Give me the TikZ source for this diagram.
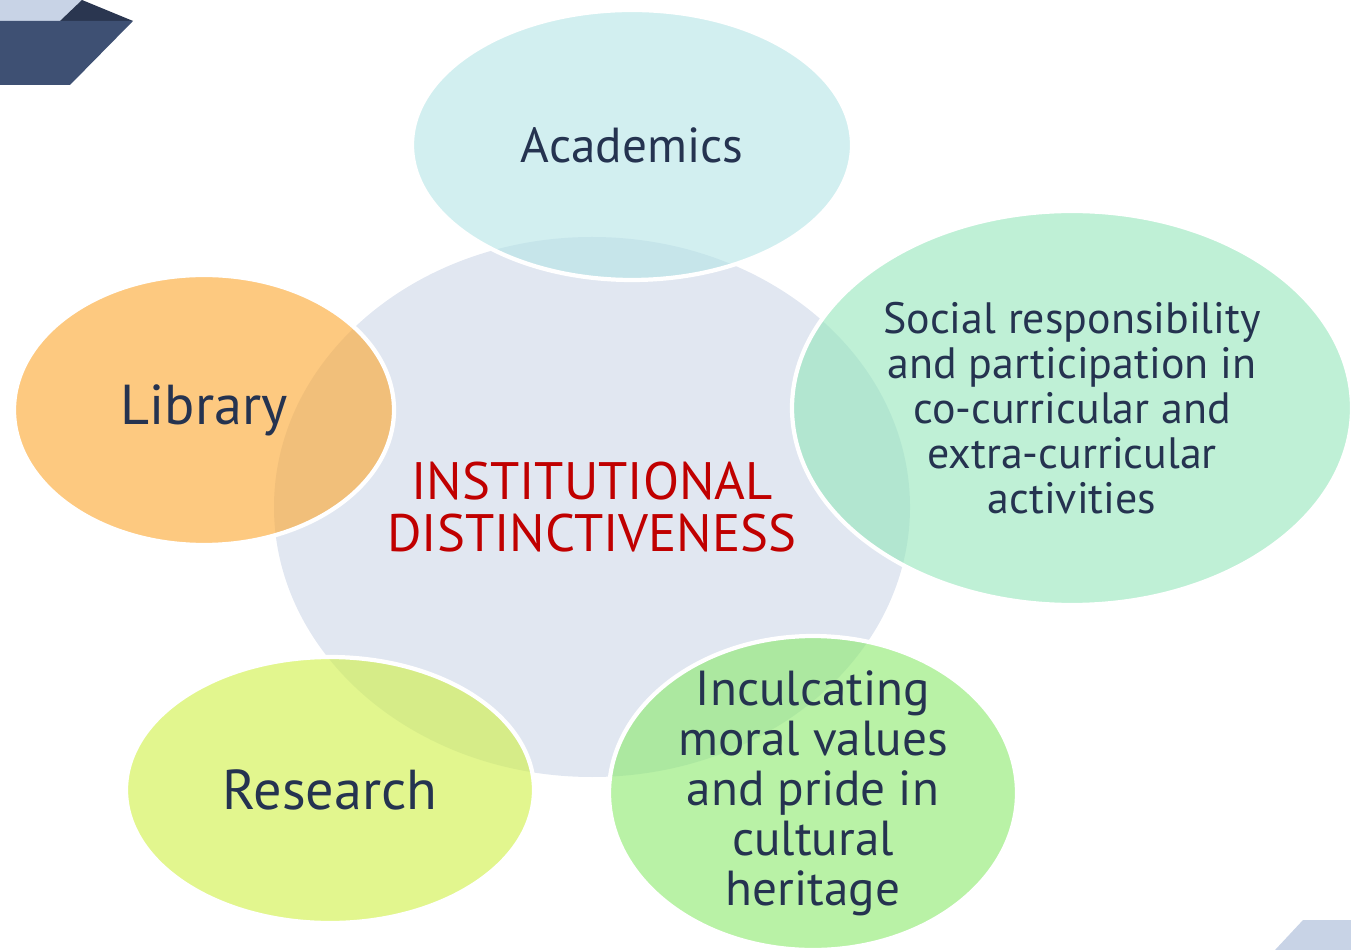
\documentclass[tikz,border=0pt]{standalone}
\usepackage{fontspec}
\setmainfont{PT Sans}
\usetikzlibrary{shapes.geometric}

\definecolor{navytext}{RGB}{37,51,80}
\definecolor{hubred}{RGB}{192,0,0}
\definecolor{hubfill}{RGB}{225,231,241}
\definecolor{acadfill}{RGB}{180,228,230}
\definecolor{socfill}{RGB}{148,230,187}
\definecolor{moralfill}{RGB}{138,233,107}
\definecolor{resfill}{RGB}{207,240,67}
\definecolor{libfill}{RGB}{252,165,43}
\definecolor{bandlight}{RGB}{200,211,230}
\definecolor{bandmid}{RGB}{62,80,115}
\definecolor{banddark}{RGB}{42,54,80}

\begin{document}
\begin{tikzpicture}[x=0.1mm, y=-0.1mm,
    bubble/.style={ellipse, draw=white, line width=1.2pt, fill opacity=0.6, inner sep=0pt},
    bubbletext/.style={text=navytext, align=center, inner sep=0pt}]

    % page frame (1 unit = 0.1mm)
    \useasboundingbox (0,0) rectangle (1351,950);

    % --- corner decorations ---
    \fill[bandlight] (0,0) -- (82,0) -- (60,21) -- (0,21) -- cycle;
    \fill[banddark] (60,21) -- (82,0) -- (133,21) -- cycle;
    \fill[bandmid] (0,21) -- (133,21) -- (70,85) -- (0,85) -- cycle;
    \fill[bandlight] (1275,950) -- (1303,920) -- (1351,920) -- (1351,950) -- cycle;

    % --- hub ---
    \node[ellipse, fill=hubfill, minimum width=63.6mm, minimum height=54mm] (hub) at (592,507) {};
    \node[text=hubred, align=center, font=\fontsize{15}{15}\selectfont] (hubtext) at (hub.center)
        {INSTITUTIONAL\\DISTINCTIVENESS};

    % --- surrounding bubbles ---
    \node[bubble, fill=acadfill, minimum width=44mm, minimum height=27mm] (acad) at (632,145) {};
    \node[bubble, fill=socfill, minimum width=56mm, minimum height=39.4mm] (social) at (1072,408) {};
    \node[bubble, fill=moralfill, minimum width=40.8mm, minimum height=31.4mm] (moral) at (813,793) {};
    \node[bubble, fill=resfill, minimum width=40.8mm, minimum height=26.6mm] (research) at (330,790) {};
    \node[bubble, fill=libfill, minimum width=38mm, minimum height=27mm] (library) at (204,410) {};

    % --- labels ---
    \node[bubbletext, font=\fontsize{14}{16}\selectfont] (acadtext) at (acad.center) {Academics};
    \node[bubbletext, font=\fontsize{12.5}{12.8}\selectfont] (socialtext) at (social.center)
        {Social responsibility\\and participation in\\co-curricular and\\extra-curricular\\activities};
    \node[bubbletext, font=\fontsize{14}{14.2}\selectfont] (moraltext) at (moral.center)
        {Inculcating\\moral values\\and pride in\\cultural\\heritage};
    \node[bubbletext, font=\fontsize{16}{18}\selectfont] (restext) at (research.center) {Research};
    \node[bubbletext, font=\fontsize{16}{18}\selectfont] (libtext) at (library.center) {Library};

\end{tikzpicture}
\end{document}
